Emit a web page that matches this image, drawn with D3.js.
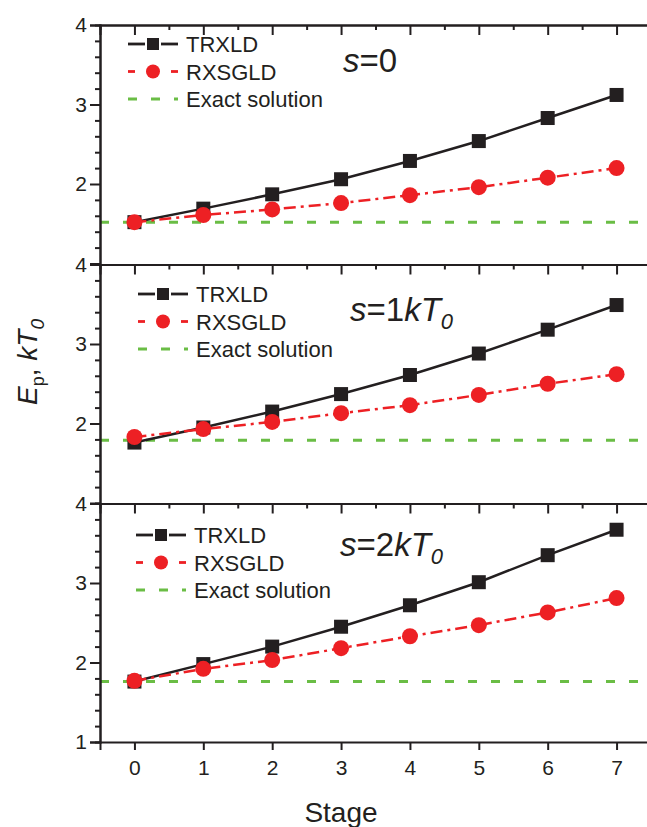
<!DOCTYPE html>
<html>
<head>
<meta charset="utf-8">
<script src="https://cdn.jsdelivr.net/npm/d3@7"></script>
<style>
  body { margin: 0; background: #fff; }
  svg { display: block; font-family: 'Liberation Sans', Arial, sans-serif; }
</style>
</head>
<body>
<div id="chart"></div>
<script>
// Data
const stages = [0, 1, 2, 3, 4, 5, 6, 7];
const trxldS0 = [1.52, 1.69, 1.87, 2.06, 2.29, 2.54, 2.83, 3.12];
const rxsgldS0 = [1.52, 1.61, 1.68, 1.76, 1.86, 1.96, 2.08, 2.2];
const exactS0 = 1.52;
const trxldS1 = [1.76, 1.95, 2.15, 2.37, 2.61, 2.88, 3.18, 3.49];
const rxsgldS1 = [1.83, 1.93, 2.02, 2.13, 2.23, 2.36, 2.5, 2.62];
const exactS1 = 1.79;
const trxldS2 = [1.76, 1.98, 2.2, 2.45, 2.72, 3.01, 3.35, 3.67];
const rxsgldS2 = [1.77, 1.92, 2.03, 2.18, 2.33, 2.47, 2.63, 2.81];
const exactS2 = 1.76;
const seriesNames = ['TRXLD', 'RXSGLD', 'Exact solution'];
const yTicks = [1, 2, 3, 4];

const W = 647;
const H = 827;
const margin = { l: 100, r: -4 };
const panelTops = [25, 264.5, 503.5];
const panelH = 238.5;

const black = '#231f20';
const red = '#ed2024';
const green = '#6abd45';

const panels = [
  { trxld: trxldS0, rxsgld: rxsgldS0, exact: exactS0, sub: null, num: '0', lx: 128, ly: 44, ax: 343, ay: 72 },
  { trxld: trxldS1, rxsgld: rxsgldS1, exact: exactS1, sub: '0', num: '1', lx: 138, ly: 294, ax: 350, ay: 321 },
  { trxld: trxldS2, rxsgld: rxsgldS2, exact: exactS2, sub: '0', num: '2', lx: 136, ly: 535, ax: 340, ay: 556 },
];

const svg = d3
  .select('#chart')
  .append('svg')
  .attr('width', W)
  .attr('height', H);

const xScale = d3.scaleLinear([-0.5, 7.5], [margin.l, W - margin.r]);

panels.forEach((p, i) => {
  const top = panelTops[i];
  const bottom = top + panelH;
  const yScale = d3.scaleLinear([1, 4], [bottom, top]);
  const g = svg.append('g');
  const last = i === panels.length - 1;

  // exact solution
  g.append('line')
    .attr('x1', xScale(-0.5))
    .attr('x2', xScale(7.5))
    .attr('y1', yScale(p.exact))
    .attr('y2', yScale(p.exact))
    .attr('stroke', green)
    .attr('stroke-width', 3)
    .attr('stroke-dasharray', '9,14');

  const line = d3
    .line()
    .x((d, k) => xScale(stages[k]))
    .y((d) => yScale(d));

  g.append('path')
    .attr('d', line(p.trxld))
    .attr('fill', 'none')
    .attr('stroke', black)
    .attr('stroke-width', 2.5);

  g.append('path')
    .attr('d', line(p.rxsgld))
    .attr('fill', 'none')
    .attr('stroke', red)
    .attr('stroke-width', 2.5)
    .attr('stroke-dasharray', '12,5,3,5');

  const sq = 14;
  g.selectAll('squares')
    .data(p.trxld)
    .join('rect')
    .attr('x', (d, k) => xScale(stages[k]) - sq / 2)
    .attr('y', (d) => yScale(d) - sq / 2)
    .attr('width', sq)
    .attr('height', sq)
    .attr('fill', black);

  g.selectAll('dots')
    .data(p.rxsgld)
    .join('circle')
    .attr('cx', (d, k) => xScale(stages[k]))
    .attr('cy', (d) => yScale(d))
    .attr('r', 8)
    .attr('fill', red);

  // left axis
  const yAxis = d3
    .axisLeft(yScale)
    .tickValues(last ? yTicks : yTicks.filter((t) => t > 1))
    .tickSize(10)
    .tickFormat(d3.format('d'));
  const yMinor = d3
    .axisLeft(yScale)
    .tickValues(d3.range(1.2, 4, 0.2).filter((t) => Math.abs(t - Math.round(t)) > 0.01))
    .tickSize(5)
    .tickFormat('');
  g.append('g').attr('transform', `translate(${margin.l},0)`).call(yMinor);
  g.append('g').attr('transform', `translate(${margin.l},0)`).call(yAxis);

  // top axis with inward ticks
  const topAxis = d3.axisBottom(xScale).tickValues(stages).tickSize(10).tickFormat('');
  const topMinor = d3
    .axisBottom(xScale)
    .tickValues(stages.map((s) => s + 0.5))
    .tickSize(5)
    .tickFormat('');
  g.append('g').attr('transform', `translate(0,${top})`).call(topMinor);
  g.append('g').attr('transform', `translate(0,${top})`).call(topAxis);

  if (last) {
    const xAxis = d3.axisBottom(xScale).tickValues(stages).tickSize(8).tickPadding(10);
    g.append('g').attr('class', 'xaxis').attr('transform', `translate(0,${bottom})`).call(xAxis);
  }

  // legend
  const rows = [p.ly, p.ly + 27.5, p.ly + 55];
  const lx = p.lx;
  g.append('line').attr('x1', lx).attr('x2', lx + 17).attr('y1', rows[0]).attr('y2', rows[0])
    .attr('stroke', black).attr('stroke-width', 2.8);
  g.append('line').attr('x1', lx + 33).attr('x2', lx + 50).attr('y1', rows[0]).attr('y2', rows[0])
    .attr('stroke', black).attr('stroke-width', 2.8);
  g.append('rect').attr('x', lx + 25 - 6).attr('y', rows[0] - 6).attr('width', 12).attr('height', 12)
    .attr('fill', black);
  g.append('line').attr('x1', lx).attr('x2', lx + 7).attr('y1', rows[1]).attr('y2', rows[1])
    .attr('stroke', red).attr('stroke-width', 2.8);
  g.append('line').attr('x1', lx + 43).attr('x2', lx + 50).attr('y1', rows[1]).attr('y2', rows[1])
    .attr('stroke', red).attr('stroke-width', 2.8);
  g.append('circle').attr('cx', lx + 25).attr('cy', rows[1]).attr('r', 7).attr('fill', red);
  g.append('line').attr('x1', lx).attr('x2', lx + 50).attr('y1', rows[2]).attr('y2', rows[2])
    .attr('stroke', green).attr('stroke-width', 3).attr('stroke-dasharray', '9,14');

  g.selectAll('legendText')
    .data(seriesNames)
    .join('text')
    .attr('x', lx + 58)
    .attr('y', (d, k) => rows[k] + 8)
    .attr('font-size', 22)
    .attr('fill', black)
    .text((d) => d);

  // annotation
  const ann = g.append('text')
    .attr('x', p.ax)
    .attr('y', p.ay)
    .attr('font-size', 33)
    .attr('fill', black);
  ann.append('tspan').attr('font-style', 'italic').text('s');
  if (p.sub === null) {
    ann.append('tspan').text('=' + p.num);
  } else {
    ann.append('tspan').text('=' + p.num);
    ann.append('tspan').attr('font-style', 'italic').text('kT');
    ann.append('tspan').attr('font-style', 'italic').attr('font-size', 22).attr('dy', 8).text(p.sub);
  }
});

svg.selectAll('.domain').attr('stroke', black).attr('stroke-width', 2);
svg.selectAll('.tick line').attr('stroke', black).attr('stroke-width', 2);
svg.selectAll('.tick text').attr('font-size', 21).attr('fill', black)
  .attr('font-family', "'Liberation Sans', Arial, sans-serif");

// y-axis name
const yName = svg
  .append('text')
  .attr('transform', `translate(37, 362) rotate(-90)`)
  .attr('text-anchor', 'middle')
  .attr('font-size', 28)
  .attr('fill', black);
yName.append('tspan').attr('font-style', 'italic').text('E');
yName.append('tspan').attr('font-size', 18).attr('dy', 7).text('p');
yName.append('tspan').attr('dy', -7).text(', ');
yName.append('tspan').attr('font-style', 'italic').text('kT');
yName.append('tspan').attr('font-style', 'italic').attr('font-size', 19).attr('dy', 7).text('0');

// x-axis name
svg
  .append('text')
  .attr('x', 341)
  .attr('y', 822)
  .attr('text-anchor', 'middle')
  .attr('font-size', 28)
  .attr('fill', black)
  .text('Stage');
</script>
</body>
</html>
